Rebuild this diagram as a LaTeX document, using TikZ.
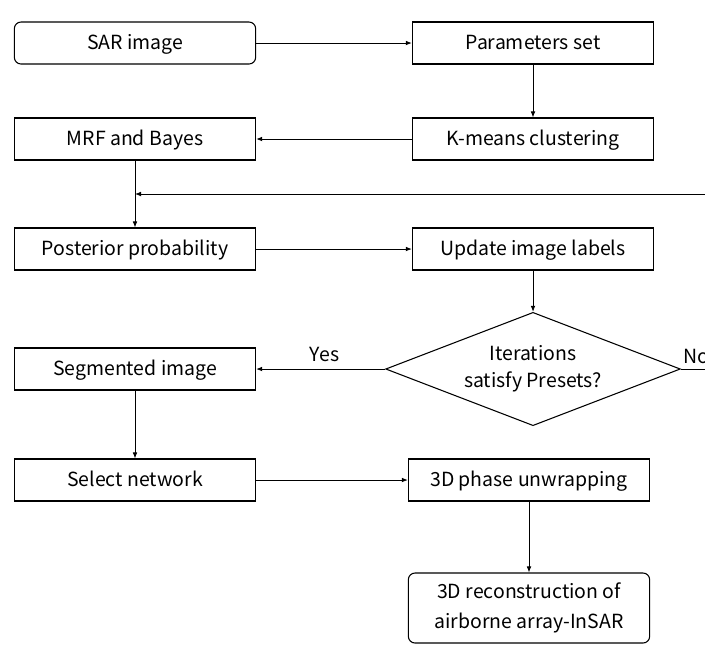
\documentclass[tikz,border=0pt]{standalone}
\usepackage{fontspec}
\setmainfont{Noto Sans CJK SC}
\usetikzlibrary{shapes.geometric,arrows.meta}

\tikzset{
	stepbox/.style = {draw, line width = 0.8pt, minimum width = 181pt,
		minimum height = 31.5pt, inner sep = 2pt, text height = 11pt, text depth = 1.5pt,
		font = \fontsize{14.6}{17}\selectfont},
	endbox/.style = {stepbox, rounded corners = 5pt},
	testbox/.style = {draw, diamond, line width = 0.8pt, aspect = 2.6,
		minimum width = 221pt, minimum height = 85pt, inner sep = 0pt,
		align = center, font = \fontsize{14.6}{20}\selectfont},
	arr/.style = {line width = 0.6pt, -{Latex[length=4.5pt, width=3.5pt]}}
}

\begin{document}
\begin{tikzpicture}[x = 0.75pt, y = -0.75pt]
	
	\useasboundingbox (0,0) rectangle (705,644);
	
	\node [endbox] (sar) at (135,43){SAR image};
	\node [stepbox] (par) at (533,43){Parameters set};
	\node [stepbox] (km) at (533,139){K-means clustering};
	\node [stepbox] (mrf) at (135,139){MRF and Bayes};
	\node [stepbox] (post) at (135,249){Posterior probability};
	\node [stepbox] (upd) at (533,249){Update image labels};
	\node [testbox] (iter) at (533,369){Iterations\\satisfy Presets?};
	\node [stepbox] (seg) at (135,369){Segmented image};
	\node [stepbox] (sel) at (135,480){Select network};
	\node [stepbox] (unw) at (529,480){3D phase unwrapping};
	\node [endbox, minimum height = 52.5pt, text height = , text depth = ,
		   align = center, font = \fontsize{14.6}{23}\selectfont] (rec) at (529,608)
		   {3D reconstruction of\\airborne array-InSAR};
	
	\coordinate (fb) at (135,194);
	
	\draw[arr] (sar) -- (par);
	\draw[arr] (par) -- (km);
	\draw[arr] (km) -- (mrf);
	\draw[line width = 0.6pt] (mrf) -- (fb);
	\draw[arr] (fb) -- (post);
	\draw[arr] (post) -- (upd);
	\draw[arr] (upd) -- (iter);
	\draw[arr] (iter) -- node[above, pos = 0.47, yshift = 2pt,
		font = \fontsize{14.6}{17}\selectfont] (yes) {Yes} (seg);
	\draw[arr] (iter.east) -- node[above, pos = 0.5, anchor = south west, xshift = -17pt,
		font = \fontsize{14.6}{17}\selectfont] (no) {No} ++(40,0) |- (fb);
	\draw[arr] (seg) -- (sel);
	\draw[arr] (sel) -- (unw);
	\draw[arr] (unw) -- (rec);
	
\end{tikzpicture}
\end{document}
